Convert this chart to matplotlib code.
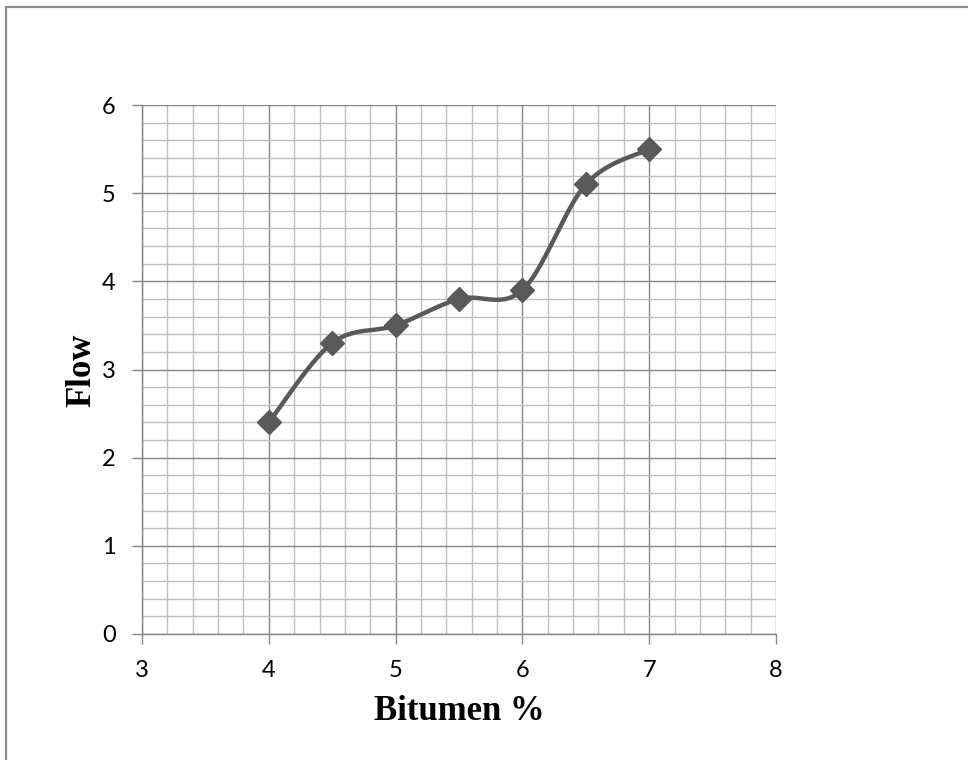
import matplotlib
matplotlib.use('Agg')
import matplotlib.pyplot as plt
import numpy as np
from matplotlib.ticker import MultipleLocator

# data
bitumen = [4.0, 4.5, 5.0, 5.5, 6.0, 6.5, 7.0]
flow = [2.4, 3.3, 3.5, 3.8, 3.9, 5.1, 5.5]

x_label = 'Bitumen %'
y_label = 'Flow'

line_col = '#595959'


def smooth_curve(xs, ys, steps=40):
    '''
    Excel-like smoothed line: cubic bezier segments through every point
    '''
    p = np.column_stack([xs, ys]).astype(float)
    n = len(p)
    out = [p[0]]
    for i in range(n - 1):
        p0 = p[i - 1] if i > 0 else p[i]
        p1 = p[i]
        p2 = p[i + 1]
        p3 = p[i + 2] if i + 2 < n else p[i + 1]
        c1 = p1 + (p2 - p0) / 6.0
        c2 = p2 - (p3 - p1) / 6.0
        t = np.linspace(0, 1, steps)[1:, None]
        seg = ((1 - t) ** 3) * p1 + 3 * ((1 - t) ** 2) * t * c1 + 3 * (1 - t) * t ** 2 * c2 + t ** 3 * p2
        out.extend(seg)
    out = np.array(out)
    return out[:, 0], out[:, 1]


fig = plt.figure(figsize=(9.68, 7.6), dpi=100)

# outer chart border (only top/left visible in the reference)
fig.patches.append(plt.Rectangle((5.5 / 968, -0.1), 1.2, 1.1 - 6.5 / 760,
                                 transform=fig.transFigure, fill=False,
                                 edgecolor='#8c8c8c', linewidth=1.6))

ax = fig.add_axes([142 / 968, 1 - 634 / 760, (776 - 142) / 968, (634 - 105) / 760])

ax.set_xlim(3, 8)
ax.set_ylim(0, 6)
ax.xaxis.set_major_locator(MultipleLocator(1))
ax.xaxis.set_minor_locator(MultipleLocator(0.2))
ax.yaxis.set_major_locator(MultipleLocator(1))
ax.yaxis.set_minor_locator(MultipleLocator(0.2))

ax.grid(which='minor', color='#bfbfbf', linewidth=1.0)
ax.grid(which='major', color='#868686', linewidth=1.0)
ax.set_axisbelow(True)

for side in ['top', 'right']:
    ax.spines[side].set_visible(False)
for side in ['left', 'bottom']:
    ax.spines[side].set_color('#868686')
    ax.spines[side].set_linewidth(1.0)

ax.tick_params(which='major', direction='out', length=7, width=1.0, color='#868686',
               labelsize=17, pad=12)
ax.tick_params(which='minor', length=0)
for lbl in ax.get_xticklabels() + ax.get_yticklabels():
    lbl.set_family('Lato')

sx, sy = smooth_curve(bitumen, flow)
ax.plot(sx, sy, color=line_col, linewidth=3.2, solid_capstyle='round', zorder=3)
ax.plot(bitumen, flow, linestyle='none', marker='D', markersize=12,
        color=line_col, zorder=4)

fig.text(459 / 968, 1 - 712 / 760, x_label, ha='center', va='center',
         fontsize=25, fontweight='bold', family='Liberation Serif')
fig.text(82 / 968, 1 - 370 / 760, y_label, ha='center', va='center', rotation=90,
         fontsize=25, fontweight='bold', family='Liberation Serif')

fig.savefig('out.png', dpi=100)
